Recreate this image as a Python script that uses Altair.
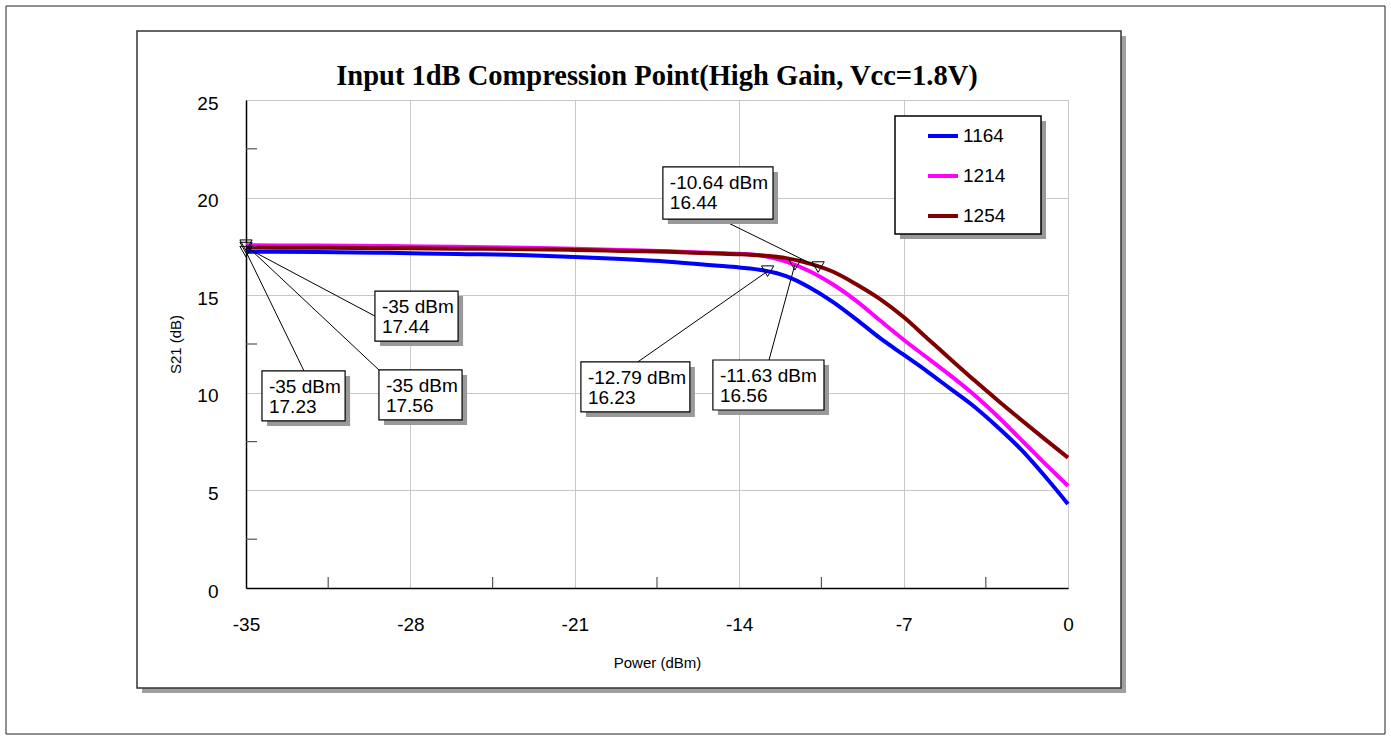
import altair as alt
import pandas as pd

# ---------------- texts & ticks ----------------
title_text = "Input 1dB Compression Point(High Gain, Vcc=1.8V)"
x_title = "Power (dBm)"
y_title = "S21 (dB)"
x_ticks = [-35, -28, -21, -14, -7, 0]
y_ticks = [0, 5, 10, 15, 20, 25]
x_minor = [-31.5, -24.5, -17.5, -10.5, -3.5]
y_minor = [2.5, 7.5, 12.5, 17.5, 22.5]

# ---------------- series ----------------
series = ["1164", "1214", "1254"]
colors = ["#0000ff", "#ff00ff", "#800000"]
power = [-35, -32, -29, -26, -23, -21, -19, -17, -15, -14, -13, -12,
         -11, -10, -9, -8, -7, -6, -5, -4, -3, -2, -1, 0]
gain_1164 = [17.23, 17.21, 17.17, 17.11, 17.05, 16.96, 16.85, 16.71, 16.52, 16.42, 16.28, 15.98,
             15.40, 14.65, 13.75, 12.80, 11.95, 11.10, 10.20, 9.30, 8.25, 7.10, 5.75, 4.30]
gain_1214 = [17.56, 17.54, 17.52, 17.48, 17.43, 17.38, 17.32, 17.25, 17.16, 17.12, 17.02, 16.72,
             16.23, 15.55, 14.70, 13.70, 12.72, 11.80, 10.88, 9.90, 8.80, 7.60, 6.40, 5.23]
gain_1254 = [17.44, 17.43, 17.41, 17.38, 17.36, 17.32, 17.27, 17.22, 17.14, 17.10, 17.03, 16.90,
             16.62, 16.20, 15.55, 14.80, 13.88, 12.80, 11.72, 10.65, 9.62, 8.62, 7.64, 6.68]

# ---------------- markers ----------------
marker_power = [-35, -35, -35, -12.79, -11.63, -10.64]
marker_gain = [17.23, 17.44, 17.56, 16.23, 16.56, 16.44]

# label box layout (data units)
box_left = [-34.32, -29.51, -29.34, -20.74, -15.12, -17.25]
box_right = [-30.78, -25.97, -25.80, -16.10, -10.39, -12.56]
box_top = [11.12, 15.21, 11.17, 11.58, 11.68, 21.57]
box_bottom = [8.56, 12.65, 8.61, 9.02, 9.12, 18.90]
leader_x = [-32.53, -29.51, -29.34, -18.32, -12.73, -14.58]
leader_y = [11.12, 13.93, 11.17, 11.58, 11.68, 18.77]

# ---------------- tables ----------------
gains = {"1164": gain_1164, "1214": gain_1214, "1254": gain_1254}
lines_df = pd.DataFrame(
    [{"power": p, "gain": g, "series": s} for s in series for p, g in zip(power, gains[s])]
)
ann_df = pd.DataFrame({
    "mp": marker_power, "mg": marker_gain,
    "bl": box_left, "br": box_right, "bt": box_top, "bb": box_bottom,
    "lx": leader_x, "ly": leader_y,
    "label": [f"{p:g} dBm\n{g:.2f}" for p, g in zip(marker_power, marker_gain)],
})
xminor_df = pd.DataFrame({"v": x_minor})
yminor_df = pd.DataFrame({"v": y_minor})
one = pd.DataFrame({"a": [0]})

W, H = 822, 488
FONT = "Liberation Sans"
xs = alt.Scale(domain=[-35, 0], nice=False, zero=False)
ys = alt.Scale(domain=[0, 25], nice=False, zero=False)

x_axis = alt.Axis(
    values=x_ticks, title=x_title, grid=True, gridColor="#c8c8c8", gridWidth=1,
    domainColor="black", domainWidth=1.5, ticks=False, tickSize=0,
    labelFont=FONT, labelFontSize=19, labelColor="black", labelPadding=27,
    labelFlush=False, labelOverlap=False, labelExpr="'' + datum.value",
    titleFont=FONT, titleFontSize=15, titleFontWeight="normal", titleColor="black",
    titlePadding=21)
y_axis = alt.Axis(
    values=y_ticks, title=y_title, grid=True, gridColor="#c8c8c8", gridWidth=1,
    domainColor="black", domainWidth=1.5, ticks=False, tickSize=0,
    labelFont=FONT, labelFontSize=19, labelColor="black", labelPadding=28,
    labelOffset=3, labelOverlap=False, labelExpr="'' + datum.value",
    titleFont=FONT, titleFontSize=15, titleFontWeight="normal", titleColor="black",
    titlePadding=13)


def X(field):
    return alt.X(field, scale=xs, axis=x_axis, title=x_title)


def Y(field):
    return alt.Y(field, scale=ys, axis=y_axis, title=y_title)


# ---------------- decorations ----------------
outer = alt.Chart(one).mark_rect(fill="white", fillOpacity=0, stroke="#222", strokeWidth=1).encode(
    x=alt.value(-240), x2=alt.value(1139), y=alt.value(-94), y2=alt.value(634))
panel_shadow_r = alt.Chart(one).mark_rect(color="#a0a0a0").encode(
    x=alt.value(875), x2=alt.value(880), y=alt.value(-64), y2=alt.value(593))
panel_shadow_b = alt.Chart(one).mark_rect(color="#a0a0a0").encode(
    x=alt.value(-104), x2=alt.value(880), y=alt.value(588), y2=alt.value(593))
panel = alt.Chart(one).mark_rect(fill="white", fillOpacity=0, stroke="#333", strokeWidth=1.5).encode(
    x=alt.value(-109), x2=alt.value(875), y=alt.value(-69), y2=alt.value(588))
title = alt.Chart(one).mark_text(
    text=title_text, font="Liberation Serif", fontSize=28.5, fontWeight="bold",
    color="black", align="center", baseline="alphabetic").encode(
    x=alt.value(W / 2), y=alt.value(-15))

legend_shadow = alt.Chart(one).mark_rect(color="#999999").encode(
    x=alt.value(654), x2=alt.value(800), y=alt.value(21), y2=alt.value(139))
legend_box = alt.Chart(one).mark_rect(fill="white", stroke="black", strokeWidth=1.5).encode(
    x=alt.value(649), x2=alt.value(795), y=alt.value(16), y2=alt.value(134))

# ---------------- main lines ----------------
lines = alt.Chart(lines_df).mark_line(strokeWidth=4, interpolate="monotone").encode(
    x=X("power:Q"),
    y=Y("gain:Q"),
    color=alt.Color("series:N", title=None, scale=alt.Scale(domain=series, range=colors),
                    legend=alt.Legend(orient="none", legendX=680, legendY=19,
                                      symbolType="stroke", symbolSize=900, symbolStrokeWidth=4,
                                      labelFont=FONT, labelFontSize=19, labelColor="black",
                                      labelOffset=3, rowPadding=13, padding=0)),
    order=alt.Order("power:Q"),
)

xminor_ticks = alt.Chart(xminor_df).mark_rule(color="#555", strokeWidth=1.2).encode(
    x=X("v:Q"), y=alt.value(H), y2=alt.value(H - 11))
yminor_ticks = alt.Chart(yminor_df).mark_rule(color="#555", strokeWidth=1.2).encode(
    y=Y("v:Q"), x=alt.value(0), x2=alt.value(11))

leaders = alt.Chart(ann_df).mark_rule(color="black", strokeWidth=1).encode(
    x=X("lx:Q"), y=Y("ly:Q"), x2="mp:Q", y2="mg:Q")
box_shadow = alt.Chart(ann_df).mark_rect(color="#999999", xOffset=5, x2Offset=5,
                                         yOffset=5, y2Offset=5).encode(
    x=X("bl:Q"), x2="br:Q", y=Y("bt:Q"), y2="bb:Q")
boxes = alt.Chart(ann_df).mark_rect(fill="white", stroke="black", strokeWidth=1.2).encode(
    x=X("bl:Q"), x2="br:Q", y=Y("bt:Q"), y2="bb:Q")
box_text = alt.Chart(ann_df).mark_text(
    align="left", baseline="top", dx=7, dy=7, font=FONT, fontSize=19, lineHeight=20,
    lineBreak="\n", color="black").encode(
    x=X("bl:Q"), y=Y("bt:Q"), text="label:N")
markers = alt.Chart(ann_df).mark_point(shape="triangle-down", size=150, filled=False,
                                       stroke="black", strokeWidth=1, opacity=1).encode(
    x=X("mp:Q"), y=Y("mg:Q"))

chart = alt.layer(
    lines, xminor_ticks, yminor_ticks,
    outer, panel_shadow_r, panel_shadow_b, panel, title,
    legend_shadow, legend_box,
    leaders, box_shadow, boxes, box_text, markers,
).properties(
    width=W, height=H,
    padding={"left": 246, "top": 100, "right": 323, "bottom": 152},
    autosize=alt.AutoSizeParams(type="none"),
    background="white",
).configure_view(stroke="#555", strokeWidth=1)

chart.save("out.html", embed_options={"renderer": "svg", "actions": False})
